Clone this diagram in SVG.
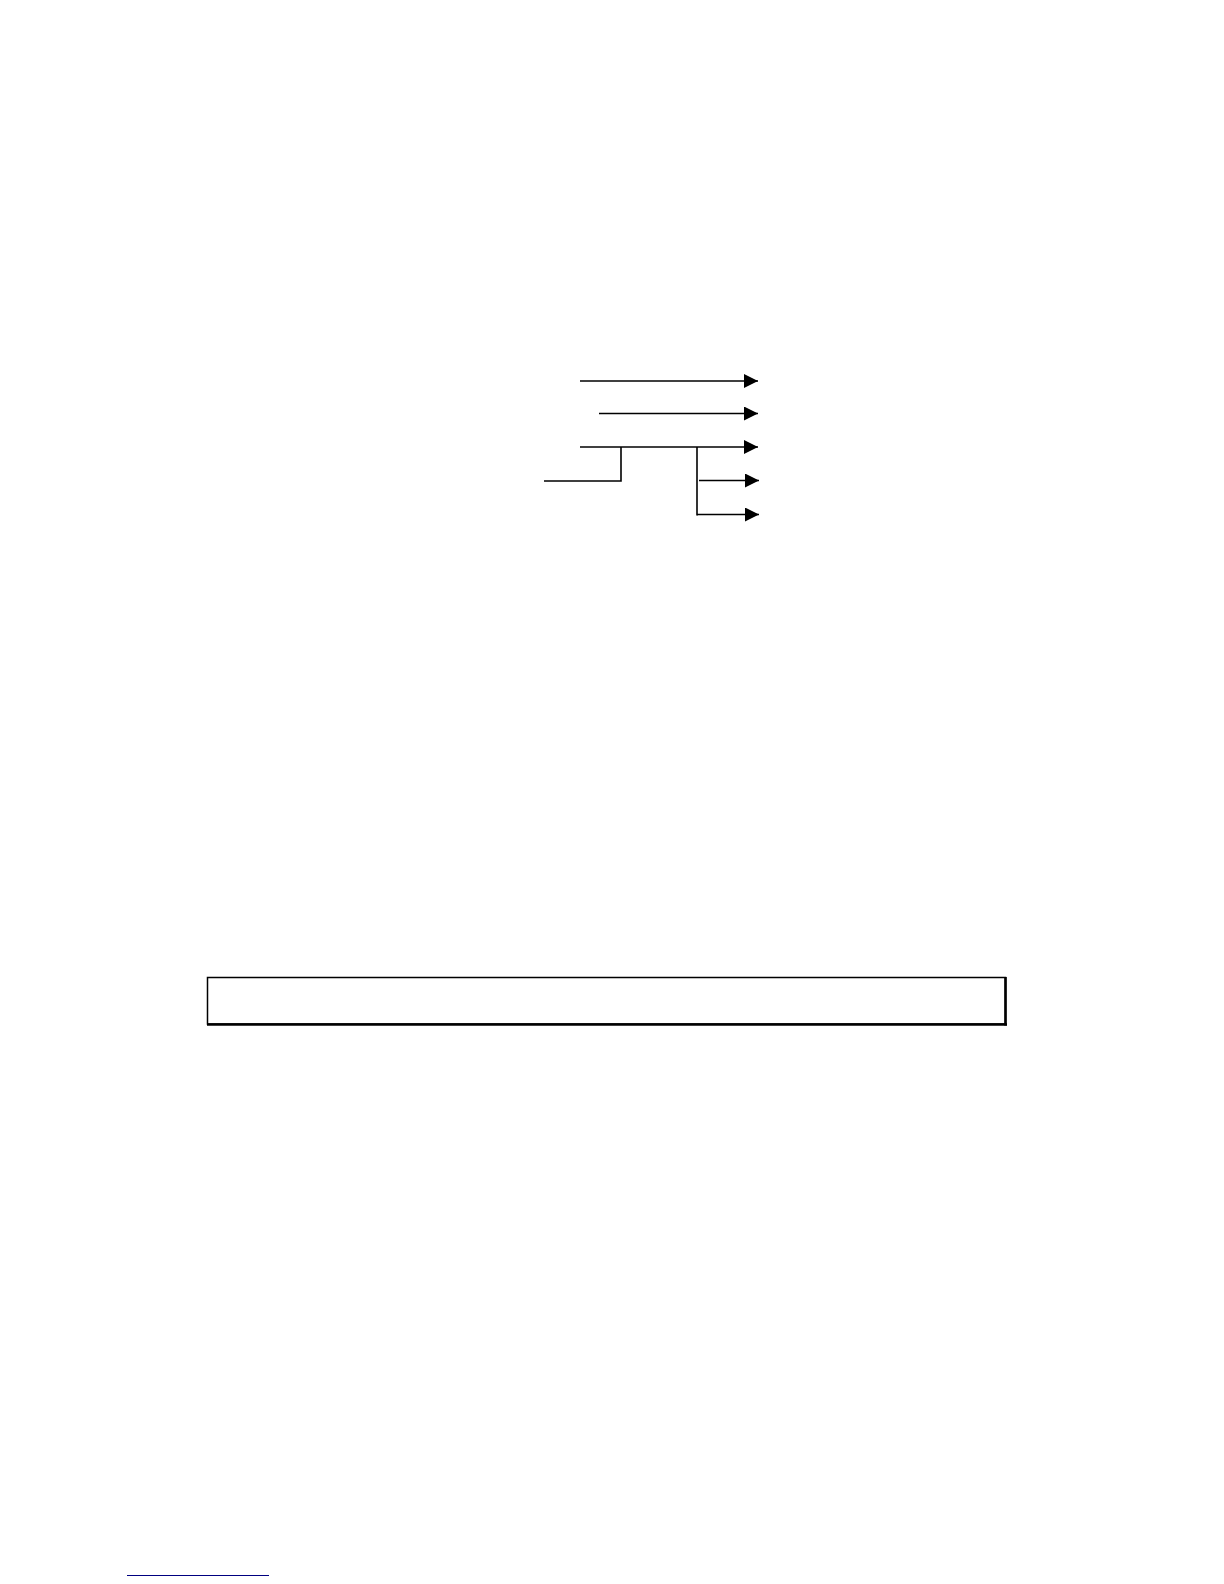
<svg xmlns="http://www.w3.org/2000/svg" width="1224" height="1584" viewBox="0 0 1224 1584">
<style>
.ln{stroke:#000;stroke-width:1.6;fill:none}
</style>
<defs>
<marker id="ah" markerWidth="14" markerHeight="14" refX="14" refY="7" orient="auto" markerUnits="userSpaceOnUse">
<path d="M0,0 L14,7 L0,14 Z" fill="#000"/>
</marker>
</defs>
<rect width="1224" height="1584" fill="#fff"/>
<g id="connectors">
<line class="ln" x1="580" y1="381" x2="758" y2="381" marker-end="url(#ah)"/>
<line class="ln" x1="599" y1="413.5" x2="758" y2="413.5" marker-end="url(#ah)"/>
<line class="ln" x1="580" y1="447" x2="758" y2="447" marker-end="url(#ah)"/>
<polyline class="ln" points="544,481 621,481 621,447"/>
<line class="ln" x1="697" y1="447" x2="697" y2="515.5"/>
<line class="ln" x1="699" y1="480.5" x2="759" y2="480.5" marker-end="url(#ah)"/>
<line class="ln" x1="697" y1="514.5" x2="759" y2="514.5" marker-end="url(#ah)"/>
</g>
<g id="box">
<rect x="207.5" y="977.5" width="798" height="46.5" fill="#fff" stroke="#000" stroke-width="1.5"/>
<line x1="207" y1="1024.5" x2="1007" y2="1024.5" stroke="#000" stroke-width="2.6"/>
<line x1="1005.5" y1="977" x2="1005.5" y2="1025.5" stroke="#000" stroke-width="2.6"/>
</g>
<g id="marks">
<line x1="127" y1="1575.5" x2="269" y2="1575.5" stroke="#000080" stroke-width="1.2"/>
</g>
</svg>
